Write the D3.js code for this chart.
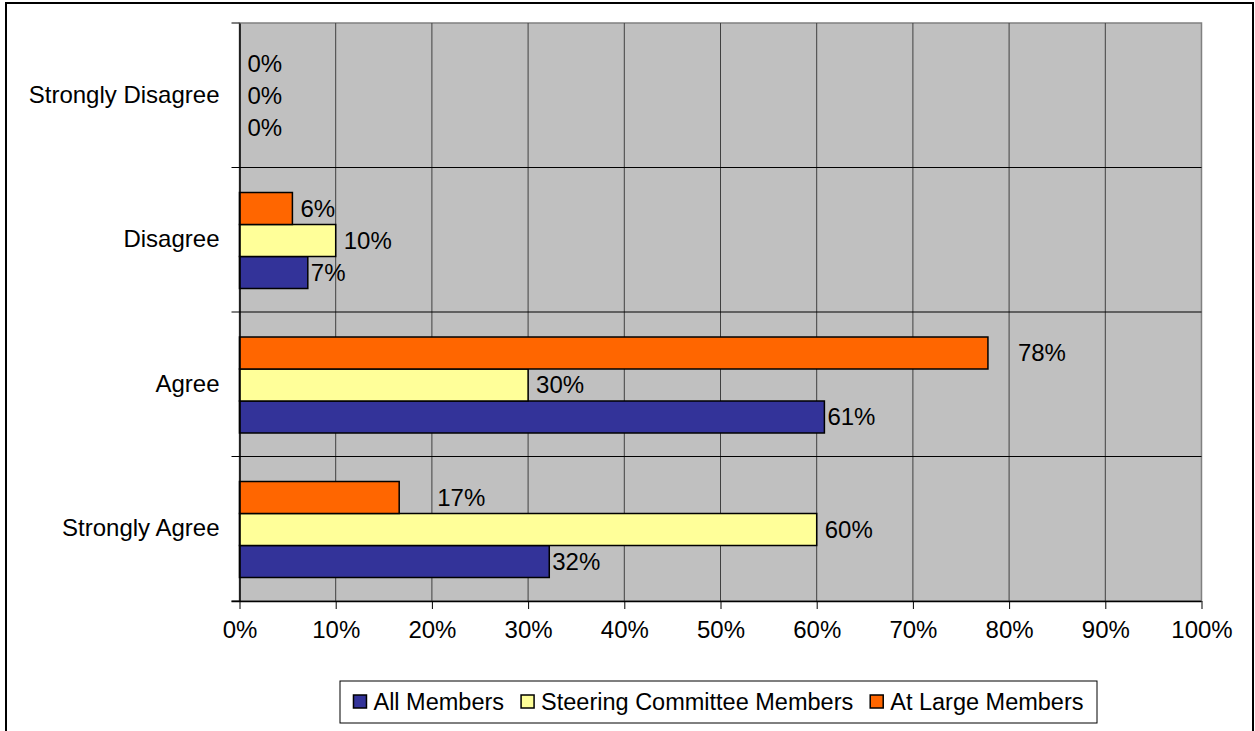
<!DOCTYPE html>
<html>
<head>
<meta charset="utf-8">
<script src="https://cdn.jsdelivr.net/npm/d3@7"></script>
<style>
  html, body { margin: 0; padding: 0; background: #fff; }
  svg { display: block; font-family: "Liberation Sans", Arial, sans-serif; }
</style>
</head>
<body>
<svg width="1255" height="731"></svg>
<script>
const svg = d3.select("svg");

// data
const categories = ["Strongly Disagree", "Disagree", "Agree", "Strongly Agree"];
const seriesNames = ["All Members", "Steering Committee Members", "At Large Members"];
const allMembers = [0, 0.071, 0.608, 0.322];
const steeringMembers = [0, 0.10, 0.30, 0.60];
const atLargeMembers = [0, 0.055, 0.778, 0.166];
const valueLabels = [
  ["0%", "7%", "61%", "32%"],
  ["0%", "10%", "30%", "60%"],
  ["0%", "6%", "78%", "17%"]
];
const xTicks = d3.range(0, 1.01, 0.1);

const colors = ["#333399", "#FFFF99", "#FF6600"];
const seriesValues = [allMembers, steeringMembers, atLargeMembers];

// outer chart border
svg.append("rect")
  .attr("x", 6).attr("y", 3)
  .attr("width", 1247).attr("height", 740)
  .attr("fill", "#fff")
  .attr("stroke", "#000")
  .attr("stroke-width", 2);

const plot = { left: 239.5, right: 1201.5, top: 23, bottom: 601 };

const x = d3.scaleLinear().domain([0, 1]).range([plot.left, plot.right]);
const y = d3.scaleBand().domain(categories).range([plot.top, plot.bottom]);
// series stacked top to bottom: At Large, Steering, All
const ySub = d3.scaleBand().domain([2, 1, 0]).range([25, y.bandwidth() - 23.5]);

// plot background
svg.append("rect")
  .attr("x", plot.left).attr("y", plot.top)
  .attr("width", plot.right - plot.left).attr("height", plot.bottom - plot.top)
  .attr("fill", "#C0C0C0")
  .attr("stroke", "#808080")
  .attr("stroke-width", 1.5);

// vertical gridlines
svg.append("g").selectAll("line")
  .data(xTicks.slice(1, -1))
  .join("line")
  .attr("x1", d => x(d)).attr("x2", d => x(d))
  .attr("y1", plot.top).attr("y2", plot.bottom)
  .attr("stroke", "#404040")
  .attr("stroke-width", 1);

// horizontal category separators
svg.append("g").selectAll("line")
  .data(categories.slice(1))
  .join("line")
  .attr("x1", plot.left - 8).attr("x2", plot.right)
  .attr("y1", d => y(d)).attr("y2", d => y(d))
  .attr("stroke", "#000")
  .attr("stroke-width", 1);

// bars
const groups = svg.append("g").selectAll("g")
  .data(seriesValues)
  .join("g")
  .attr("fill", (d, i) => colors[i]);

groups.selectAll("rect")
  .data((vals, si) => vals.map((v, ci) => ({ v, ci, si })).filter(d => d.v > 0))
  .join("rect")
  .attr("x", x(0))
  .attr("y", d => y(categories[d.ci]) + ySub(d.si))
  .attr("width", d => x(d.v) - x(0))
  .attr("height", ySub.bandwidth())
  .attr("stroke", "#000")
  .attr("stroke-width", 1.5);

// value labels (At Large labels were nudged further right in the original)
const nudge = (si, ci) => (si === 2 && ci === 2 ? 22 : si === 2 && ci === 3 ? 30 : 0);
const labels = svg.append("g").attr("font-size", 24).attr("fill", "#000");
seriesValues.forEach((vals, si) => {
  vals.forEach((v, ci) => {
    labels.append("text")
      .attr("x", x(v) + (v > 0 ? (si === 0 ? 3 : 8) : 8) + nudge(si, ci))
      .attr("y", y(categories[ci]) + ySub(si) + ySub.bandwidth() / 2)
      .attr("dy", "0.35em")
      .text(valueLabels[si][ci]);
  });
});

// y axis
const yAxis = svg.append("g")
  .attr("transform", `translate(${plot.left},0)`)
  .call(d3.axisLeft(y).tickSize(0).tickPadding(20).tickSizeOuter(0));
yAxis.select(".domain").attr("stroke", "#000").attr("stroke-width", 1.5);
yAxis.selectAll("text").attr("font-size", 24).attr("fill", "#000")
  .attr("font-family", "Liberation Sans, Arial, sans-serif");
svg.append("g").selectAll("line")
  .data([plot.top, plot.bottom])
  .join("line")
  .attr("x1", plot.left - 8).attr("x2", plot.left)
  .attr("y1", d => d).attr("y2", d => d)
  .attr("stroke", "#000");

// x axis
const xAxis = svg.append("g")
  .attr("transform", `translate(0,${plot.bottom})`)
  .call(d3.axisBottom(x).tickValues(xTicks).tickFormat(d3.format(".0%"))
    .tickSize(8).tickPadding(12).tickSizeOuter(0));
xAxis.select(".domain").attr("stroke", "#000").attr("stroke-width", 1.5)
  .attr("d", `M${plot.left - 8},0.5H${plot.right}`);
xAxis.selectAll("line").attr("stroke", "#000");
xAxis.selectAll("text").attr("font-size", 24).attr("fill", "#000")
  .attr("font-family", "Liberation Sans, Arial, sans-serif");

// legend
const legend = svg.append("g");
const legendBox = { x: 340, y: 681, w: 757, h: 42 };
legend.append("rect")
  .attr("x", legendBox.x).attr("y", legendBox.y)
  .attr("width", legendBox.w).attr("height", legendBox.h)
  .attr("fill", "#fff").attr("stroke", "#000").attr("stroke-width", 1);

const items = legend.selectAll("g.item")
  .data(seriesNames)
  .join("g")
  .attr("class", "item");
items.append("rect")
  .attr("width", 13).attr("height", 13)
  .attr("y", -7)
  .attr("fill", (d, i) => colors[i])
  .attr("stroke", "#000").attr("stroke-width", 1.5);
items.append("text")
  .attr("x", 20).attr("dy", "0.35em")
  .attr("font-size", 23.5)
  .text(d => d);

const widths = [];
items.each(function () { widths.push(this.getBBox().width); });
const gap = 17;
const total = d3.sum(widths) + gap * (widths.length - 1);
let cx = legendBox.x + (legendBox.w - total) / 2;
items.attr("transform", (d, i) => {
  const t = `translate(${cx},${legendBox.y + legendBox.h / 2})`;
  cx += widths[i] + gap;
  return t;
});
</script>
</body>
</html>
